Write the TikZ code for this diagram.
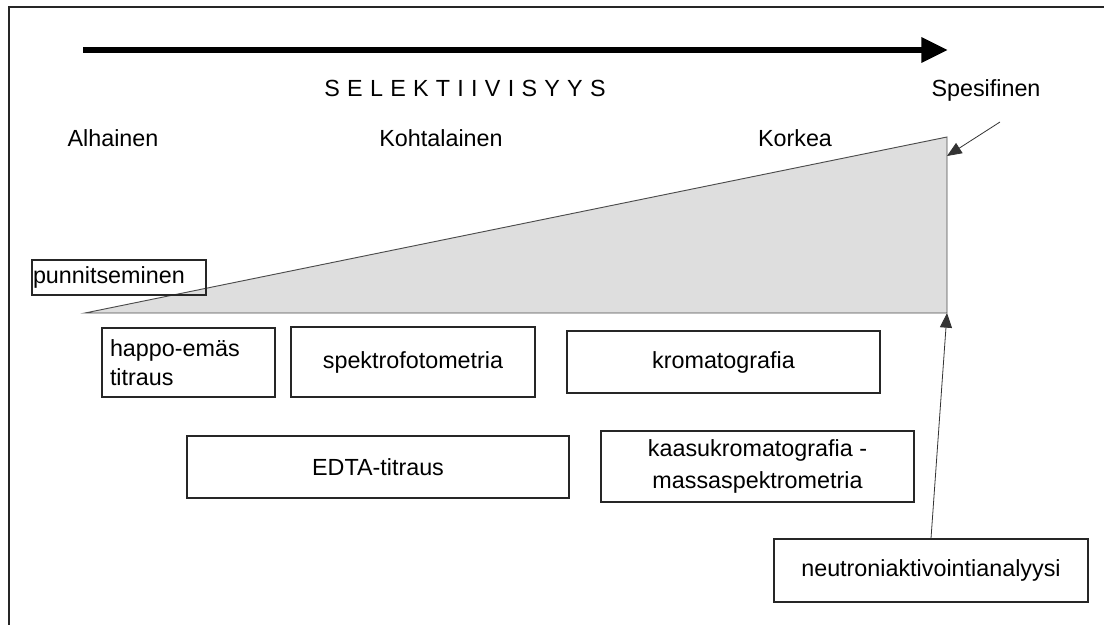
\documentclass[tikz,border=0pt]{standalone}
\usepackage{fontspec}
\setmainfont{Liberation Sans}
\usetikzlibrary{arrows.meta}
\begin{document}
\begin{tikzpicture}[x=0.75pt,y=-0.75pt,font=\fontsize{17.5}{22}\selectfont]
\tikzset{
  box/.style={draw=black!85, line width=0.8pt, inner sep=0pt, align=center},
  lbl/.style={inner sep=0pt},
  thin arrow/.style={draw=black!80, line width=0.6pt, -{Triangle[length=11pt,width=9pt]}},
}
\useasboundingbox (0,0) rectangle (1104,625);
% frame
\draw[line width=2pt, black!85] (1104,7) -- (9,7) -- (9,625);
% big arrow
\coordinate (ba) at (83,50);
\coordinate (bb) at (948,50);
\draw[line width=4.6pt, -{Triangle[length=20pt,width=18pt]}] (ba) -- (bb);
% triangle
\coordinate (tl) at (85,313);
\coordinate (tr) at (947,137);
\coordinate (br) at (947,313);
\coordinate (spestip) at (947,156);
\draw[fill=black!13, draw=black!70, line width=0.7pt] (tl) -- (tr) -- (br) -- cycle;
% labels
\node[lbl] (sel) at (465,88) {\spaceskip=5.45pt S E L E K T I I V I S Y Y S};
\node[lbl] (spes) at (986,90) {Spesifinen};
\node[lbl] (alh) at (113,138) {Alhainen};
\node[lbl] (koh) at (441,138) {Kohtalainen};
\node[lbl] (kor) at (795,138) {Korkea};
\coordinate (spesfrom) at (1000,122);
\draw[thin arrow] (spesfrom) -- (spestip);
% boxes
\node[box, minimum width=130.5pt, minimum height=26.25pt, text width=129pt, align=left] (pun) at (119,277.5) {punnitseminen};
\node[box, minimum width=129.75pt, minimum height=51.75pt, text width=117.75pt, align=left] (hap) at (188.5,362.5) {happo-emäs\\titraus};
\node[box, minimum width=183pt, minimum height=52.5pt] (spe) at (413,362) {spektrofotometria};
\node[box, minimum width=234.75pt, minimum height=46.5pt] (kro) at (723.5,362) {kromatografia};
\node[box, minimum width=286.5pt, minimum height=46.5pt] (edta) at (378,467) {EDTA-titraus};
\node[box, minimum width=234.75pt, minimum height=53.25pt, font=\fontsize{17.5}{24}\selectfont] (kaa) at (757.5,466.5) {kaasukromatografia -\\massaspektrometria};
\node[box, minimum width=235.5pt, minimum height=47.25pt] (neu) at (931,570.5) {neutroniaktivointianalyysi};
\draw[thin arrow] (neu.north) -- (br);
\end{tikzpicture}
\end{document}
